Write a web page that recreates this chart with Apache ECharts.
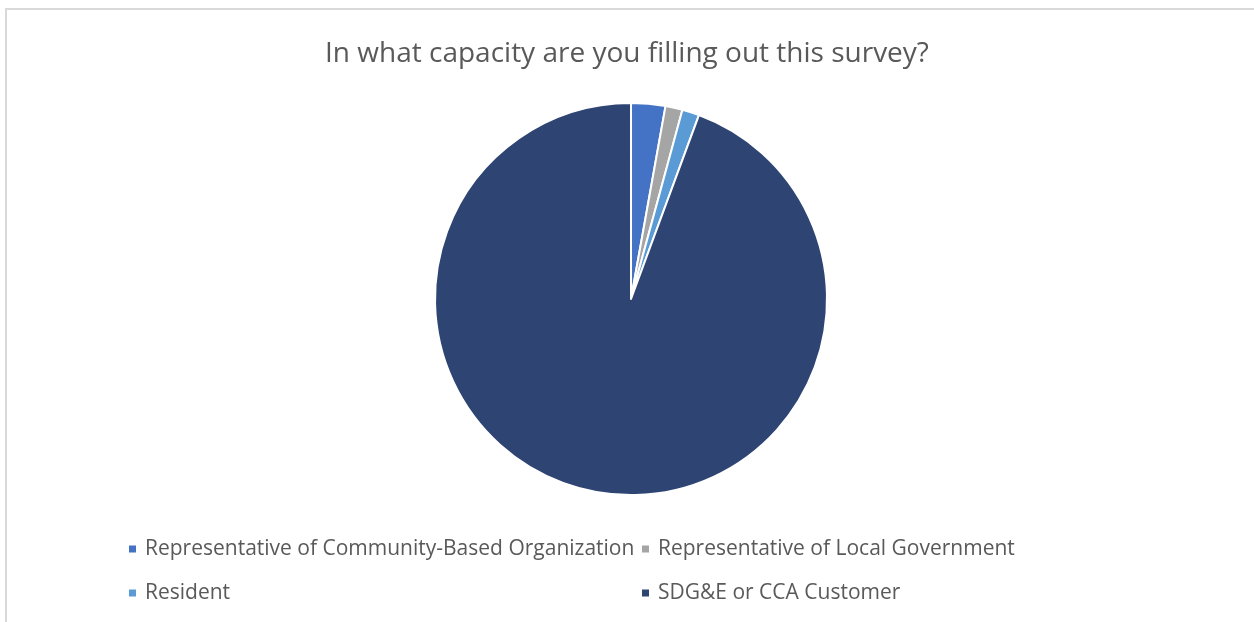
<!DOCTYPE html>
<html>
<head>
<meta charset="utf-8">
<script src="https://cdn.jsdelivr.net/npm/echarts@6/dist/echarts.min.js"></script>
<style>
  html, body { margin: 0; padding: 0; background: #fff; }
  #chart { width: 1254px; height: 622px; }
</style>
</head>
<body>
<div id="chart"></div>
<script>
// Survey responses by respondent capacity
const titleText = 'In what capacity are you filling out this survey?';
const categories = [
  'Representative of Community-Based Organization',
  'Representative of Local Government',
  'Resident',
  'SDG&E or CCA Customer'
];
const responses = [2, 1, 1, 67];
const colors = ['#4472C4', '#A5A5A5', '#5B9BD5', '#2E4473'];

const chart = echarts.init(document.getElementById('chart'), null, { renderer: 'canvas' });

chart.setOption({
  animation: false,
  backgroundColor: '#ffffff',
  color: colors,
  graphic: [{
    type: 'rect',
    shape: { x: 6, y: 9, width: 1260, height: 630 },
    style: { fill: 'none', stroke: '#d9d9d9', lineWidth: 2 },
    silent: true
  }],
  title: {
    text: titleText,
    left: 'center',
    top: 35,
    textStyle: {
      fontFamily: 'Open Sans',
      fontSize: 28,
      fontWeight: 'normal',
      color: '#595959'
    }
  },
  legend: {
    left: 127,
    top: 527,
    width: 1100,
    orient: 'horizontal',
    icon: 'rect',
    itemWidth: 9,
    itemHeight: 9,
    itemGap: 0,
    padding: 0,
    selectedMode: false,
    data: categories,
    textStyle: {
      fontFamily: 'Open Sans',
      fontSize: 21,
      color: '#595959',
      width: 495,
      lineHeight: 44,
      padding: [0, 0, 0, 3]
    }
  },
  series: [{
    type: 'pie',
    center: ['50.32%', '48.07%'],
    radius: 196,
    startAngle: 90,
    clockwise: true,
    label: { show: false },
    labelLine: { show: false },
    itemStyle: { borderColor: '#ffffff', borderWidth: 2 },
    emphasis: { disabled: true },
    data: categories.map((name, i) => ({ name, value: responses[i] }))
  }]
});
</script>
</body>
</html>
